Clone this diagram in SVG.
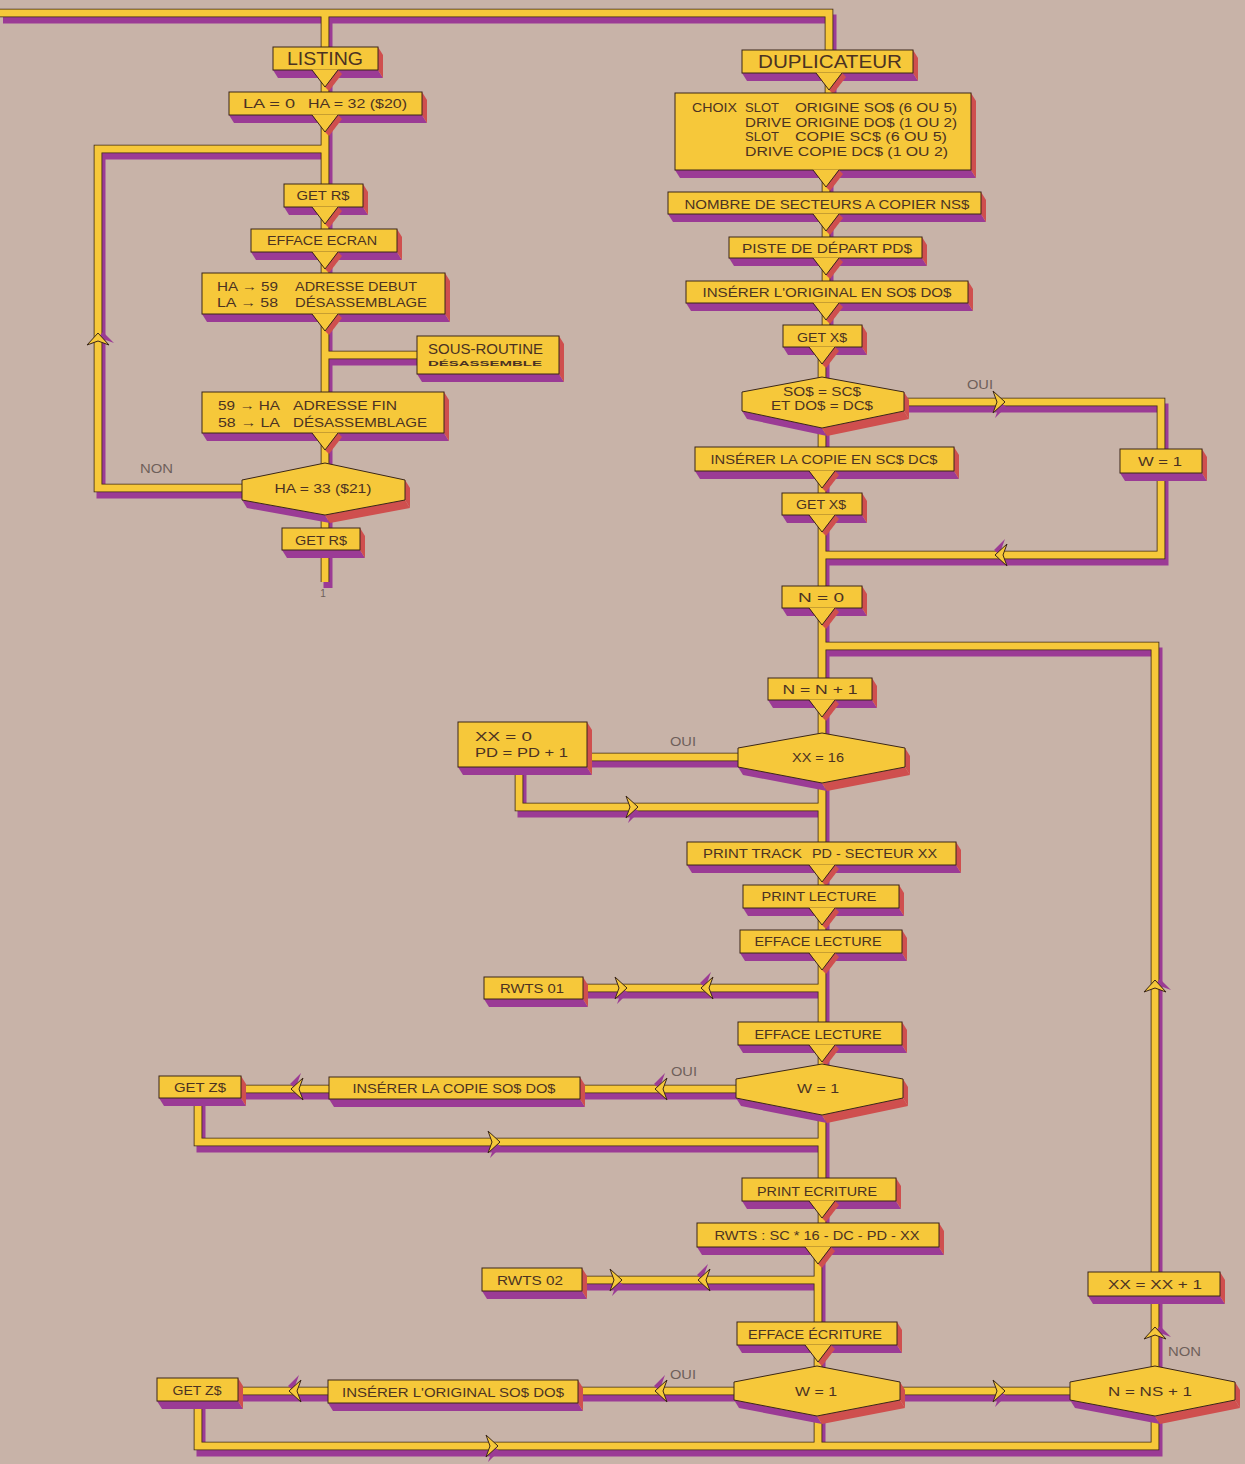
<svg xmlns="http://www.w3.org/2000/svg" xmlns:xlink="http://www.w3.org/1999/xlink" width="1245" height="1464" viewBox="0 0 1245 1464">
<style>
.bf{fill:#9b3b95}
.rf{fill:#cf4f4e}
.fr{fill:#f6c83a;stroke:#3a2618;stroke-width:1}
.yl{fill:#f6c83a}
.ol{fill:none;stroke:#3a2618;stroke-width:1}
.psh{fill:none;stroke:#9b3b95;stroke-width:9}
.pol{fill:none;stroke:#3a2618;stroke-width:8.6}
.pfl{fill:none;stroke:#f6c83a;stroke-width:7}
.t{font-family:"Liberation Sans Narrow","Liberation Sans",Arial,sans-serif;fill:#4b3222;font-size:13px}
.m{text-anchor:middle}
.big{font-size:18px}
.sm{font-size:12px}
.xs{font-size:6.5px;font-weight:bold}
.md{font-size:14px}
.lbl{font-family:"Liberation Sans",Arial,sans-serif;fill:#6e5f5a;font-size:12px}
.tiny{font-size:10px}
</style>
<defs>
<g id="notch"><polygon class="rf" points="13,0 17,4 4,21 0,17"/><polygon class="yl" points="-13,-0.6 13,-0.6 0,17"/><path class="ol" d="M-13,0 L0,17 L13,0"/></g>
<g id="arr"><polygon class="bf" points="-5,-5 6,5 -5,16 -1,5"/><polygon class="fr" points="-7,-11 5,0 -7,11 -3,0"/></g>
<g id="pipes">
<path d="M0,13 H829 V52"/>
<path d="M325,13 V49"/>
<path d="M325,70 V582"/>
<path d="M325,355 H420"/>
<path d="M244,488 H98 V149 H325"/>
<path d="M829,73 V96"/>
<path d="M826,170 V336"/>
<path d="M822,336 V1235"/>
<path d="M818,1235 V1446"/>
<path d="M904,402 H1161 V555 H822"/>
<path d="M822,646 H1155 V1368"/>
<path d="M740,757 H587"/>
<path d="M519,767 V807 H822"/>
<path d="M822,988 H583"/>
<path d="M738,1089 H580"/>
<path d="M329,1089 H241"/>
<path d="M198,1098 V1142 H822"/>
<path d="M818,1280 H582"/>
<path d="M736,1391 H578"/>
<path d="M328,1391 H238"/>
<path d="M900,1391 H1072"/>
<path d="M198,1401 V1446 H1155 V1414"/>
</g>
</defs>
<rect width="1245" height="1464" fill="#c8b3a8"/>
<g id="connectors">
<use href="#pipes" class="psh" transform="translate(3,6)"/>
<use href="#pipes" class="pol"/>
<use href="#pipes" class="pfl"/>
<use href="#arr" transform="translate(98,338) rotate(-90)"/>
<use href="#arr" transform="translate(1000,402)"/>
<use href="#arr" transform="translate(1000,555) rotate(180)"/>
<use href="#arr" transform="translate(1155,985) rotate(-90)"/>
<use href="#arr" transform="translate(1155,1332) rotate(-90)"/>
<use href="#arr" transform="translate(633,807)"/>
<use href="#arr" transform="translate(622,988)"/>
<use href="#arr" transform="translate(706,988) rotate(180)"/>
<use href="#arr" transform="translate(660,1089) rotate(180)"/>
<use href="#arr" transform="translate(296,1089) rotate(180)"/>
<use href="#arr" transform="translate(495,1142)"/>
<use href="#arr" transform="translate(617,1280)"/>
<use href="#arr" transform="translate(703,1280) rotate(180)"/>
<use href="#arr" transform="translate(660,1391) rotate(180)"/>
<use href="#arr" transform="translate(294,1391) rotate(180)"/>
<use href="#arr" transform="translate(1000,1391)"/>
<use href="#arr" transform="translate(493,1446)"/>
</g>
<g id="labels">
<text class="lbl" x="140" y="473" textLength="33" lengthAdjust="spacingAndGlyphs">NON</text>
<text class="lbl" x="967" y="389" textLength="26" lengthAdjust="spacingAndGlyphs">OUI</text>
<text class="lbl" x="670" y="746" textLength="26" lengthAdjust="spacingAndGlyphs">OUI</text>
<text class="lbl" x="671" y="1076" textLength="26" lengthAdjust="spacingAndGlyphs">OUI</text>
<text class="lbl" x="670" y="1379" textLength="26" lengthAdjust="spacingAndGlyphs">OUI</text>
<text class="lbl" x="1168" y="1356" textLength="33" lengthAdjust="spacingAndGlyphs">NON</text>
<text class="lbl tiny m" x="323" y="597">1</text>
</g>
<g id="n-listing" transform="translate(273,47)">
<polygon class="bf" points="0,23 5,31 110,31 105,23"/><polygon class="rf" points="105,0 110,8 110,31 105,23"/>
<rect class="fr" width="105" height="23"/><use href="#notch" x="52" y="23"/>
<text class="t m big" x="52" y="18" textLength="76" lengthAdjust="spacingAndGlyphs">LISTING</text>
</g>
<g id="n-la" transform="translate(229,92)">
<polygon class="bf" points="0,23 5,31 198,31 193,23"/><polygon class="rf" points="193,0 198,8 198,31 193,23"/>
<rect class="fr" width="193" height="23"/><use href="#notch" x="96" y="23"/>
<text class="t" x="14" y="16" textLength="52" lengthAdjust="spacingAndGlyphs">LA = 0</text>
<text class="t" x="79" y="16" textLength="99" lengthAdjust="spacingAndGlyphs">HA = 32 ($20)</text>
</g>
<g id="n-getr1" transform="translate(284,184)">
<polygon class="bf" points="0,23 5,31 84,31 79,23"/><polygon class="rf" points="79,0 84,8 84,31 79,23"/>
<rect class="fr" width="79" height="23"/><use href="#notch" x="41" y="23"/>
<text class="t m" x="39" y="16" textLength="53" lengthAdjust="spacingAndGlyphs">GET R$</text>
</g>
<g id="n-effecran" transform="translate(251,229)">
<polygon class="bf" points="0,23 5,31 151,31 146,23"/><polygon class="rf" points="146,0 151,8 151,31 146,23"/>
<rect class="fr" width="146" height="23"/><use href="#notch" x="74" y="23"/>
<text class="t m" x="71" y="16" textLength="110" lengthAdjust="spacingAndGlyphs">EFFACE ECRAN</text>
</g>
<g id="n-ha59" transform="translate(202,273)">
<polygon class="bf" points="0,41 5,49 248,49 243,41"/><polygon class="rf" points="243,0 248,8 248,49 243,41"/>
<rect class="fr" width="243" height="41"/><use href="#notch" x="123" y="41"/>
<text class="t" x="15" y="18" textLength="61" lengthAdjust="spacingAndGlyphs">HA → 59</text>
<text class="t" x="93" y="18" textLength="122" lengthAdjust="spacingAndGlyphs">ADRESSE DEBUT</text>
<text class="t" x="15" y="34" textLength="61" lengthAdjust="spacingAndGlyphs">LA → 58</text>
<text class="t" x="93" y="34" textLength="132" lengthAdjust="spacingAndGlyphs">DÉSASSEMBLAGE</text>
</g>
<g id="n-sousroutine" transform="translate(417,336)">
<polygon class="bf" points="0,38 5,46 147,46 142,38"/><polygon class="rf" points="142,0 147,8 147,46 142,38"/>
<rect class="fr" width="142" height="38"/>
<text class="t md" x="11" y="18" textLength="115" lengthAdjust="spacingAndGlyphs">SOUS-ROUTINE</text>
<text class="t xs" x="11" y="30" textLength="114" lengthAdjust="spacingAndGlyphs">DÉSASSEMBLE</text>
</g>
<g id="n-59ha" transform="translate(202,392)">
<polygon class="bf" points="0,41 5,49 247,49 242,41"/><polygon class="rf" points="242,0 247,8 247,49 242,41"/>
<rect class="fr" width="242" height="41"/><use href="#notch" x="123" y="41"/>
<text class="t" x="16" y="18" textLength="62" lengthAdjust="spacingAndGlyphs">59 → HA</text>
<text class="t" x="91" y="18" textLength="104" lengthAdjust="spacingAndGlyphs">ADRESSE  FIN</text>
<text class="t" x="16" y="35" textLength="62" lengthAdjust="spacingAndGlyphs">58 → LA</text>
<text class="t" x="91" y="35" textLength="134" lengthAdjust="spacingAndGlyphs">DÉSASSEMBLAGE</text>
</g>
<g id="n-ha33">
<polygon class="bf" points="242,500 325,515 330,523 247,508"/><polygon class="rf" points="325,515 405,500 410,508 330,523"/><polygon class="rf" points="405,480 410,488 410,508 405,500"/>
<polygon class="fr" points="242,480 325,463 405,480 405,500 325,515 242,500"/>
<text class="t m" x="323" y="493" textLength="97" lengthAdjust="spacingAndGlyphs">HA = 33 ($21)</text>
</g>
<g id="n-getr2" transform="translate(282,528)">
<polygon class="bf" points="0,22 5,30 83,30 78,22"/><polygon class="rf" points="78,0 83,8 83,30 78,22"/>
<rect class="fr" width="78" height="22"/>
<text class="t m" x="39" y="17" textLength="52" lengthAdjust="spacingAndGlyphs">GET R$</text>
</g>
<g id="n-duplicateur" transform="translate(742,50)">
<polygon class="bf" points="0,23 5,31 176,31 171,23"/><polygon class="rf" points="171,0 176,8 176,31 171,23"/>
<rect class="fr" width="171" height="23"/><use href="#notch" x="87" y="23"/>
<text class="t m big" x="88" y="18" textLength="144" lengthAdjust="spacingAndGlyphs">DUPLICATEUR</text>
</g>
<g id="n-choix" transform="translate(675,93)">
<polygon class="bf" points="0,77 5,85 301,85 296,77"/><polygon class="rf" points="296,0 301,8 301,85 296,77"/>
<rect class="fr" width="296" height="77"/><use href="#notch" x="151" y="77"/>
<text class="t sm" x="17" y="19" textLength="45" lengthAdjust="spacingAndGlyphs">CHOIX</text>
<text class="t sm" x="70" y="19" textLength="34" lengthAdjust="spacingAndGlyphs">SLOT</text>
<text class="t sm" x="120" y="19" textLength="162" lengthAdjust="spacingAndGlyphs">ORIGINE SO$ (6 OU 5)</text>
<text class="t sm" x="70" y="34" textLength="212" lengthAdjust="spacingAndGlyphs">DRIVE ORIGINE DO$ (1 OU 2)</text>
<text class="t sm" x="70" y="48" textLength="34" lengthAdjust="spacingAndGlyphs">SLOT</text>
<text class="t sm" x="120" y="48" textLength="152" lengthAdjust="spacingAndGlyphs">COPIE SC$ (6 OU 5)</text>
<text class="t sm" x="70" y="63" textLength="203" lengthAdjust="spacingAndGlyphs">DRIVE COPIE DC$ (1 OU 2)</text>
</g>
<g id="n-nombre" transform="translate(668,192)">
<polygon class="bf" points="0,22 5,30 318,30 313,22"/><polygon class="rf" points="313,0 318,8 318,30 313,22"/>
<rect class="fr" width="313" height="22"/><use href="#notch" x="158" y="22"/>
<text class="t m" x="159" y="17" textLength="285" lengthAdjust="spacingAndGlyphs">NOMBRE DE SECTEURS A COPIER NS$</text>
</g>
<g id="n-piste" transform="translate(729,237)">
<polygon class="bf" points="0,21 5,29 198,29 193,21"/><polygon class="rf" points="193,0 198,8 198,29 193,21"/>
<rect class="fr" width="193" height="21"/><use href="#notch" x="97" y="21"/>
<text class="t m" x="98" y="16" textLength="170" lengthAdjust="spacingAndGlyphs">PISTE DE DÉPART PD$</text>
</g>
<g id="n-insorig" transform="translate(686,281)">
<polygon class="bf" points="0,22 5,30 287,30 282,22"/><polygon class="rf" points="282,0 287,8 287,30 282,22"/>
<rect class="fr" width="282" height="22"/><use href="#notch" x="140" y="22"/>
<text class="t m" x="141" y="16" textLength="249" lengthAdjust="spacingAndGlyphs">INSÉRER L'ORIGINAL EN SO$ DO$</text>
</g>
<g id="n-getx1" transform="translate(783,325)">
<polygon class="bf" points="0,22 5,30 84,30 79,22"/><polygon class="rf" points="79,0 84,8 84,30 79,22"/>
<rect class="fr" width="79" height="22"/><use href="#notch" x="39" y="22"/>
<text class="t m" x="39" y="17" textLength="50" lengthAdjust="spacingAndGlyphs">GET X$</text>
</g>
<g id="n-soequal">
<polygon class="bf" points="742,411 822,428 827,436 747,419"/><polygon class="rf" points="822,428 904,411 909,419 827,436"/><polygon class="rf" points="904,392 909,400 909,419 904,411"/>
<polygon class="fr" points="742,392 822,377 904,392 904,411 822,428 742,411"/>
<text class="t m sm" x="822" y="396" textLength="78" lengthAdjust="spacingAndGlyphs">SO$ = SC$</text>
<text class="t m sm" x="822" y="410" textLength="102" lengthAdjust="spacingAndGlyphs">ET DO$ = DC$</text>
</g>
<g id="n-w1a" transform="translate(1120,449)">
<polygon class="bf" points="0,24 5,32 87,32 82,24"/><polygon class="rf" points="82,0 87,8 87,32 82,24"/>
<rect class="fr" width="82" height="24"/>
<text class="t m" x="40" y="17" textLength="44" lengthAdjust="spacingAndGlyphs">W = 1</text>
</g>
<g id="n-inscopie" transform="translate(695,447)">
<polygon class="bf" points="0,24 5,32 264,32 259,24"/><polygon class="rf" points="259,0 264,8 264,32 259,24"/>
<rect class="fr" width="259" height="24"/><use href="#notch" x="127" y="24"/>
<text class="t m" x="129" y="17" textLength="227" lengthAdjust="spacingAndGlyphs">INSÉRER LA COPIE EN SC$ DC$</text>
</g>
<g id="n-getx2" transform="translate(782,493)">
<polygon class="bf" points="0,22 5,30 85,30 80,22"/><polygon class="rf" points="80,0 85,8 85,30 80,22"/>
<rect class="fr" width="80" height="22"/><use href="#notch" x="40" y="22"/>
<text class="t m" x="39" y="16" textLength="50" lengthAdjust="spacingAndGlyphs">GET X$</text>
</g>
<g id="n-n0" transform="translate(782,586)">
<polygon class="bf" points="0,22 5,30 85,30 80,22"/><polygon class="rf" points="80,0 85,8 85,30 80,22"/>
<rect class="fr" width="80" height="22"/><use href="#notch" x="40" y="22"/>
<text class="t m" x="39" y="16" textLength="46" lengthAdjust="spacingAndGlyphs">N = 0</text>
</g>
<g id="n-nn1" transform="translate(768,678)">
<polygon class="bf" points="0,22 5,30 109,30 104,22"/><polygon class="rf" points="104,0 109,8 109,30 104,22"/>
<rect class="fr" width="104" height="22"/><use href="#notch" x="54" y="22"/>
<text class="t m" x="52" y="16" textLength="75" lengthAdjust="spacingAndGlyphs">N = N + 1</text>
</g>
<g id="n-xx16">
<polygon class="bf" points="738,767 822,783 827,791 743,775"/><polygon class="rf" points="822,783 905,767 910,775 827,791"/><polygon class="rf" points="905,748 910,756 910,775 905,767"/>
<polygon class="fr" points="738,748 822,733 905,748 905,767 822,783 738,767"/>
<text class="t m" x="818" y="762" textLength="52" lengthAdjust="spacingAndGlyphs">XX = 16</text>
</g>
<g id="n-xx0" transform="translate(458,722)">
<polygon class="bf" points="0,45 5,53 134,53 129,45"/><polygon class="rf" points="129,0 134,8 134,53 129,45"/>
<rect class="fr" width="129" height="45"/>
<text class="t" x="17" y="19" textLength="57" lengthAdjust="spacingAndGlyphs">XX = 0</text>
<text class="t" x="17" y="35" textLength="93" lengthAdjust="spacingAndGlyphs">PD = PD + 1</text>
</g>
<g id="n-printtrack" transform="translate(687,842)">
<polygon class="bf" points="0,23 5,31 274,31 269,23"/><polygon class="rf" points="269,0 274,8 274,31 269,23"/>
<rect class="fr" width="269" height="23"/><use href="#notch" x="135" y="23"/>
<text class="t" x="16" y="16" textLength="99" lengthAdjust="spacingAndGlyphs">PRINT TRACK</text>
<text class="t" x="125" y="16" textLength="125" lengthAdjust="spacingAndGlyphs">PD - SECTEUR XX</text>
</g>
<g id="n-printlect" transform="translate(743,885)">
<polygon class="bf" points="0,23 5,31 161,31 156,23"/><polygon class="rf" points="156,0 161,8 161,31 156,23"/>
<rect class="fr" width="156" height="23"/><use href="#notch" x="79" y="23"/>
<text class="t m" x="76" y="16" textLength="115" lengthAdjust="spacingAndGlyphs">PRINT LECTURE</text>
</g>
<g id="n-efflect1" transform="translate(740,930)">
<polygon class="bf" points="0,23 5,31 167,31 162,23"/><polygon class="rf" points="162,0 167,8 167,31 162,23"/>
<rect class="fr" width="162" height="23"/><use href="#notch" x="82" y="23"/>
<text class="t m" x="78" y="16" textLength="127" lengthAdjust="spacingAndGlyphs">EFFACE LECTURE</text>
</g>
<g id="n-rwts01" transform="translate(484,977)">
<polygon class="bf" points="0,22 5,30 104,30 99,22"/><polygon class="rf" points="99,0 104,8 104,30 99,22"/>
<rect class="fr" width="99" height="22"/>
<text class="t m" x="48" y="16" textLength="64" lengthAdjust="spacingAndGlyphs">RWTS 01</text>
</g>
<g id="n-efflect2" transform="translate(738,1022)">
<polygon class="bf" points="0,23 5,31 169,31 164,23"/><polygon class="rf" points="164,0 169,8 169,31 164,23"/>
<rect class="fr" width="164" height="23"/><use href="#notch" x="84" y="23"/>
<text class="t m" x="80" y="17" textLength="127" lengthAdjust="spacingAndGlyphs">EFFACE LECTURE</text>
</g>
<g id="n-w1b">
<polygon class="bf" points="736,1098 822,1115 827,1123 741,1106"/><polygon class="rf" points="822,1115 903,1098 908,1106 827,1123"/><polygon class="rf" points="903,1079 908,1087 908,1106 903,1098"/>
<polygon class="fr" points="736,1079 822,1064 903,1079 903,1098 822,1115 736,1098"/>
<text class="t m" x="818" y="1093" textLength="42" lengthAdjust="spacingAndGlyphs">W = 1</text>
</g>
<g id="n-inscopie2" transform="translate(329,1077)">
<polygon class="bf" points="0,22 5,30 256,30 251,22"/><polygon class="rf" points="251,0 256,8 256,30 251,22"/>
<rect class="fr" width="251" height="22"/>
<text class="t m" x="125" y="16" textLength="203" lengthAdjust="spacingAndGlyphs">INSÉRER LA COPIE SO$ DO$</text>
</g>
<g id="n-getz1" transform="translate(159,1076)">
<polygon class="bf" points="0,22 5,30 87,30 82,22"/><polygon class="rf" points="82,0 87,8 87,30 82,22"/>
<rect class="fr" width="82" height="22"/>
<text class="t m" x="41" y="16" textLength="52" lengthAdjust="spacingAndGlyphs">GET Z$</text>
</g>
<g id="n-printecr" transform="translate(742,1178)">
<polygon class="bf" points="0,23 5,31 159,31 154,23"/><polygon class="rf" points="154,0 159,8 159,31 154,23"/>
<rect class="fr" width="154" height="23"/><use href="#notch" x="80" y="23"/>
<text class="t m" x="75" y="18" textLength="120" lengthAdjust="spacingAndGlyphs">PRINT ECRITURE</text>
</g>
<g id="n-rwtssc" transform="translate(697,1223)">
<polygon class="bf" points="0,24 5,32 247,32 242,24"/><polygon class="rf" points="242,0 247,8 247,32 242,24"/>
<rect class="fr" width="242" height="24"/><use href="#notch" x="121" y="24"/>
<text class="t m" x="120" y="17" textLength="205" lengthAdjust="spacingAndGlyphs">RWTS : SC * 16 - DC - PD - XX</text>
</g>
<g id="n-rwts02" transform="translate(482,1268)">
<polygon class="bf" points="0,23 5,31 105,31 100,23"/><polygon class="rf" points="100,0 105,8 105,31 100,23"/>
<rect class="fr" width="100" height="23"/>
<text class="t m" x="48" y="17" textLength="66" lengthAdjust="spacingAndGlyphs">RWTS 02</text>
</g>
<g id="n-effecr" transform="translate(737,1322)">
<polygon class="bf" points="0,23 5,31 165,31 160,23"/><polygon class="rf" points="160,0 165,8 165,31 160,23"/>
<rect class="fr" width="160" height="23"/><use href="#notch" x="81" y="23"/>
<text class="t m" x="78" y="17" textLength="134" lengthAdjust="spacingAndGlyphs">EFFACE ÉCRITURE</text>
</g>
<g id="n-w1c">
<polygon class="bf" points="734,1400 817,1416 822,1424 739,1408"/><polygon class="rf" points="817,1416 900,1400 905,1408 822,1424"/><polygon class="rf" points="900,1382 905,1390 905,1408 900,1400"/>
<polygon class="fr" points="734,1382 817,1366 900,1382 900,1400 817,1416 734,1400"/>
<text class="t m" x="816" y="1396" textLength="42" lengthAdjust="spacingAndGlyphs">W = 1</text>
</g>
<g id="n-insorig2" transform="translate(328,1380)">
<polygon class="bf" points="0,23 5,31 255,31 250,23"/><polygon class="rf" points="250,0 255,8 255,31 250,23"/>
<rect class="fr" width="250" height="23"/>
<text class="t m" x="125" y="17" textLength="222" lengthAdjust="spacingAndGlyphs">INSÉRER L'ORIGINAL SO$ DO$</text>
</g>
<g id="n-getz2" transform="translate(157,1378)">
<polygon class="bf" points="0,23 5,31 86,31 81,23"/><polygon class="rf" points="81,0 86,8 86,31 81,23"/>
<rect class="fr" width="81" height="23"/>
<text class="t m" x="40" y="17" textLength="49" lengthAdjust="spacingAndGlyphs">GET Z$</text>
</g>
<g id="n-nns1">
<polygon class="bf" points="1070,1400 1155,1416 1160,1424 1075,1408"/><polygon class="rf" points="1155,1416 1235,1400 1240,1408 1160,1424"/><polygon class="rf" points="1235,1382 1240,1390 1240,1408 1235,1400"/>
<polygon class="fr" points="1070,1382 1155,1366 1235,1382 1235,1400 1155,1416 1070,1400"/>
<text class="t m" x="1150" y="1396" textLength="84" lengthAdjust="spacingAndGlyphs">N = NS + 1</text>
</g>
<g id="n-xxinc" transform="translate(1088,1272)">
<polygon class="bf" points="0,24 5,32 137,32 132,24"/><polygon class="rf" points="132,0 137,8 137,32 132,24"/>
<rect class="fr" width="132" height="24"/>
<text class="t m" x="67" y="17" textLength="94" lengthAdjust="spacingAndGlyphs">XX = XX + 1</text>
</g>
</svg>
